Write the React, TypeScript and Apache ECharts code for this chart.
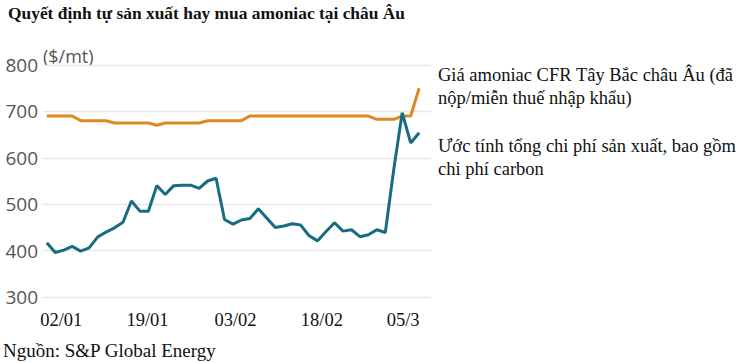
import React, { useEffect, useRef } from "react";
import * as echarts from "echarts";

const title = "Quyết định tự sản xuất hay mua amoniac tại châu Âu";
const unitLabel = "($/mt)";
const source = "Nguồn: S&P Global Energy";

const priceLegend = ["Giá amoniac CFR Tây Bắc châu Âu (đã", "nộp/miễn thuế nhập khẩu)"];
const costLegend = ["Ước tính tổng chi phí sản xuất, bao gồm", "chi phí carbon"];

// x tick labels and where they sit (in data-point index units)
const xLabels = ["02/01", "19/01", "03/02", "18/02", "05/3"];
const xLabelAt = [1.7, 11.9, 22.3, 32.5, 42.1];

const yTicks = [300, 400, 500, 600, 700, 800];

// Giá amoniac CFR Tây Bắc châu Âu
const priceValues = [
  690, 690, 690, 690, 680, 680, 680, 680, 675, 675,
  675, 675, 675, 670, 675, 675, 675, 675, 675, 680,
  680, 680, 680, 680, 690, 690, 690, 690, 690, 690,
  690, 690, 690, 690, 690, 690, 690, 690, 690, 683,
  683, 683, 690, 690, 750,
];

// Ước tính tổng chi phí sản xuất
const costValues = [
  417, 396, 401, 409, 399, 406, 429, 440, 449, 461,
  507, 485, 485, 540, 521, 540, 541, 541, 534, 550,
  556, 467, 457, 466, 469, 490, 470, 450, 453, 458,
  455, 432, 421, 441, 460, 442, 445, 430, 434, 445,
  439, 575, 697, 632, 654,
];

const SERIF = "'Liberation Serif', 'Times New Roman', serif";
const SANS = "'Open Sans', 'Noto Sans', sans-serif";

export default function App() {
  const ref = useRef<HTMLDivElement>(null);

  useEffect(() => {
    if (!ref.current) return;
    const chart = echarts.init(ref.current, undefined, { renderer: "svg" });
    const pricePairs = priceValues.map((v, i) => [i, v]);
    const costPairs = costValues.map((v, i) => [i, v]);

    chart.setOption({
      animation: false,
      backgroundColor: "#ffffff",
      grid: { left: 43, right: 322, top: 65, bottom: 66, containLabel: false },
      xAxis: {
        type: "value",
        min: -0.45,
        max: 45.4,
        axisLine: { show: false },
        axisTick: { show: false },
        splitLine: { show: false },
        axisLabel: {
          customValues: xLabelAt,
          formatter: (v: number) => {
            const k = xLabelAt.findIndex((p) => Math.abs(p - v) < 1e-6);
            return k >= 0 ? xLabels[k] : "";
          },
          fontFamily: SERIF,
          fontSize: 18.5,
          color: "#111",
          margin: 13,
        },
      },
      yAxis: {
        type: "value",
        min: yTicks[0],
        max: yTicks[yTicks.length - 1],
        interval: 100,
        axisLine: { show: false },
        axisTick: { show: false },
        splitLine: { show: true, lineStyle: { color: "#e8e8e8", width: 1.3 } },
        axisLabel: {
          fontFamily: SANS,
          fontSize: 19,
          color: "#555",
          margin: 5,
        },
      },
      series: [
        {
          name: priceLegend.join(" "),
          type: "line",
          data: pricePairs,
          showSymbol: false,
          lineStyle: { color: "#dd8a1e", width: 3 },
          itemStyle: { color: "#dd8a1e" },
          z: 2,
        },
        {
          name: costLegend.join(" "),
          type: "line",
          data: costPairs,
          showSymbol: false,
          lineStyle: { color: "#166d82", width: 3 },
          itemStyle: { color: "#166d82" },
          z: 3,
        },
      ],
      graphic: [
        {
          type: "text",
          left: 8,
          top: 4,
          style: { text: title, font: `bold 17.4px ${SERIF}`, fill: "#111" },
        },
        {
          type: "text",
          left: 43,
          top: 47,
          style: { text: unitLabel, font: `18px ${SANS}`, fill: "#555" },
        },
        {
          type: "text",
          left: 438,
          top: 63,
          style: {
            text: priceLegend.join("\n"),
            font: `18.5px ${SERIF}`,
            fill: "#111",
            lineHeight: 23,
          },
        },
        {
          type: "text",
          left: 438,
          top: 134,
          style: {
            text: costLegend.join("\n"),
            font: `18.5px ${SERIF}`,
            fill: "#111",
            lineHeight: 23,
          },
        },
        {
          type: "text",
          left: 3,
          top: 341,
          style: { text: source, font: `19px ${SERIF}`, fill: "#111" },
        },
      ],
    });

    return () => chart.dispose();
  }, []);

  return (
    <div
      ref={ref}
      style={{ position: "absolute", left: 0, top: 0, width: 753, height: 363 }}
    />
  );
}
